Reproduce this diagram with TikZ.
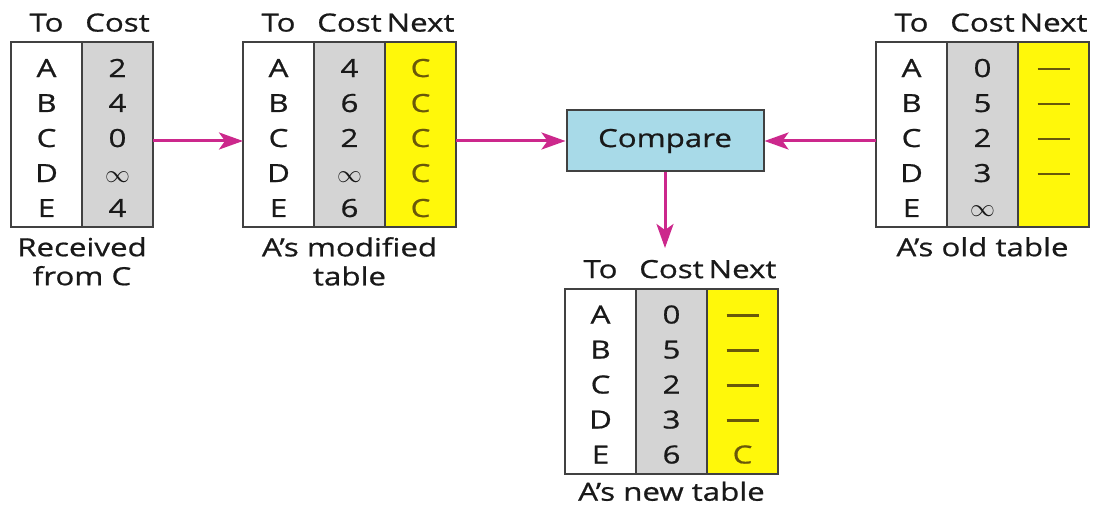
\documentclass[tikz,border=0pt]{standalone}
\usepackage{fontspec}
\setmainfont[FakeStretch=1.25,FakeBold=0.8]{Open Sans}
\usepackage{xcolor}
\usepackage{tikz}
\usetikzlibrary{arrows.meta,positioning}
\definecolor{framegray}{RGB}{65,65,65}
\definecolor{inkgray}{RGB}{25,25,25}
\definecolor{costgray}{RGB}{212,212,212}
\definecolor{nextyellow}{RGB}{255,248,10}
\definecolor{nextolive}{RGB}{105,88,10}
\definecolor{cmpblue}{RGB}{168,218,232}
\definecolor{linkmagenta}{RGB}{204,40,140}
\newcommand{\tabfont}{\fontsize{25}{35}\selectfont}
\newcommand{\capfont}{\fontsize{25}{29}\selectfont}
\newcommand{\nodash}{\rule[7pt]{32pt}{2.2pt}}
\newcommand{\colrows}[5]{\rule{0pt}{30pt}#1\\#2\\#3\\#4\\#5\rule[-5pt]{0pt}{5pt}}
\tikzset{
  tocol/.style={
    rectangle, draw=framegray, line width=2pt, fill=white,
    minimum width=71pt, minimum height=185pt,
    inner sep=0pt, outer sep=0pt, align=center,
    font=\tabfont, text=inkgray
  },
  costcol/.style={tocol, fill=costgray},
  nextcol/.style={tocol, fill=nextyellow, text=nextolive},
  colhead/.style={inner sep=0pt, font=\tabfont, text=inkgray},
  tabcap/.style={inner sep=0pt, align=center, font=\capfont, text=inkgray},
  cmpbox/.style={
    rectangle, draw=framegray, line width=2pt, fill=cmpblue,
    minimum width=197pt, minimum height=61pt,
    font=\tabfont, text=inkgray
  },
  arrow/.style={-{Stealth[length=24pt,width=17pt,inset=6pt]}, line width=3pt, linkmagenta},
}
\begin{document}
\begin{tikzpicture}[x=1pt, y=-1pt]
  \useasboundingbox (0,0) rectangle (1096,508);

  % Received from C
  \node[tocol] (rto) at (46.5,134.5) {\colrows{A}{B}{C}{D}{E}};
  \node[costcol, right=0pt of rto] (rcost) {\colrows{2}{4}{0}{$\infty$}{4}};
  \node[colhead, above=10pt of rto] (rhto) {To};
  \node[colhead, above=10pt of rcost] (rhcost) {Cost};
  \node[tabcap, below=10pt of rto.south east] (rcap) {Received\\from C};

  % A's modified table
  \node[tocol] (mto) at (278.5,134.5) {\colrows{A}{B}{C}{D}{E}};
  \node[costcol, right=0pt of mto] (mcost) {\colrows{4}{6}{2}{$\infty$}{6}};
  \node[nextcol, right=0pt of mcost] (mnext) {\colrows{C}{C}{C}{C}{C}};
  \node[colhead, above=10pt of mto] (mhto) {To};
  \node[colhead, above=10pt of mcost] (mhcost) {Cost};
  \node[colhead, above=10pt of mnext] (mhnext) {Next};
  \node[tabcap, below=10pt of mcost] (mcap) {A’s modified\\table};

  % A's old table
  \node[tocol] (oto) at (911.5,134.5) {\colrows{A}{B}{C}{D}{E}};
  \node[costcol, right=0pt of oto] (ocost) {\colrows{0}{5}{2}{3}{$\infty$}};
  \node[nextcol, right=0pt of ocost] (onext) {\colrows{\nodash}{\nodash}{\nodash}{\nodash}{}};
  \node[colhead, above=10pt of oto] (ohto) {To};
  \node[colhead, above=10pt of ocost] (ohcost) {Cost};
  \node[colhead, above=10pt of onext] (ohnext) {Next};
  \node[tabcap, below=10pt of ocost] (ocap) {A’s old table};

  % Compare
  \node[cmpbox] (cmp) at (665,141) {Compare};

  % A's new table
  \node[tocol] (nto) at (600.5,381) {\colrows{A}{B}{C}{D}{E}};
  \node[costcol, right=0pt of nto] (ncost) {\colrows{0}{5}{2}{3}{6}};
  \node[nextcol, right=0pt of ncost] (nnext) {\colrows{\nodash}{\nodash}{\nodash}{\nodash}{C}};
  \node[colhead, above=10pt of nto] (nhto) {To};
  \node[colhead, above=10pt of ncost] (nhcost) {Cost};
  \node[colhead, above=10pt of nnext] (nhnext) {Next};
  \node[tabcap, below=8pt of ncost] (ncap) {A’s new table};
  \coordinate (ntip) at (665,248);

  % Arrows
  \draw[arrow] (rcost.east |- cmp) -- (mto.west |- cmp);
  \draw[arrow] (mnext.east |- cmp) -- (cmp.west);
  \draw[arrow] (oto.west |- cmp) -- (cmp.east);
  \draw[arrow] (cmp.south) -- (ntip);
\end{tikzpicture}
\end{document}
